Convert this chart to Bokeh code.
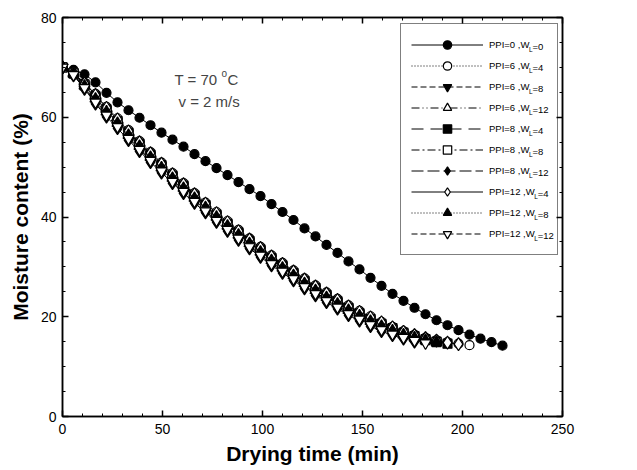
from bokeh.plotting import figure
from bokeh.models import (Range1d, LinearAxis, SingleIntervalTicker, Legend, LegendItem, Label,
                          CustomJSTickFormatter)
from bokeh.embed import file_html
from bokeh.resources import INLINE

# ---------------- data ----------------
TIME = [0, 5.5, 11, 16.5, 22, 27.5, 33, 38.5, 44, 49.5, 55, 60.5, 66, 71.5, 77, 82.5, 88, 93.5,
        99, 104.5, 110, 115.5, 121, 126.5, 132, 137.5, 143, 148.5, 154, 159.5, 165, 170.5, 176,
        181.5, 187, 192.5, 198, 203.5, 209, 214.5, 220]

PPI0_WL0 = [70.0, 69.5, 68.6, 67.0, 64.9, 63.0, 61.4, 59.9, 58.4, 56.9, 55.5, 54.1, 52.6, 51.2,
            49.8, 48.4, 47.0, 45.6, 44.2, 42.6, 41.0, 39.4, 37.7, 36.1, 34.4, 32.8, 31.1, 29.5,
            27.8, 26.2, 24.6, 23.2, 21.8, 20.5, 19.3, 18.3, 17.3, 16.4, 15.6, 14.9, 14.2]
PPI6_WL4 = [70.0, 69.0, 66.9, 64.7, 62.1, 59.8, 57.4, 55.2, 53.0, 50.9, 48.8, 46.8, 44.8, 42.9,
            41.0, 39.2, 37.4, 35.7, 34.0, 32.3, 30.8, 29.3, 27.7, 26.3, 24.9, 23.6, 22.3, 21.2,
            20.1, 19.0, 18.0, 17.1, 16.4, 15.8, 15.3, 14.9, 14.6, 14.3]
PPI6_WL8 = [70.0, 68.6, 66.1, 63.3, 60.7, 58.4, 56.0, 53.8, 51.6, 49.5, 47.4, 45.4, 43.4, 41.5,
            39.6, 37.8, 36.0, 34.3, 32.6, 30.9, 29.4, 27.9, 26.3, 24.9, 23.5, 22.2, 20.9, 19.8,
            18.7, 17.7, 16.8, 16.0, 15.4, 14.9]
PPI6_WL12 = [70.0, 68.9, 66.7, 64.3, 61.7, 59.4, 57.0, 54.8, 52.6, 50.5, 48.4, 46.4, 44.4, 42.5,
             40.6, 38.8, 37.0, 35.3, 33.6, 31.9, 30.4, 28.9, 27.3, 25.9, 24.5, 23.2, 21.9, 20.8,
             19.7, 18.7, 17.8, 17.0, 16.3, 15.7, 15.2]
PPI8_WL4 = [70.0, 68.8, 66.6, 64.2, 61.6, 59.3, 56.9, 54.7, 52.5, 50.4, 48.3, 46.3, 44.3, 42.4,
            40.5, 38.7, 36.9, 35.2, 33.5, 31.8, 30.3, 28.8, 27.2, 25.8, 24.4, 23.1, 21.8, 20.7,
            19.6, 18.6, 17.7, 16.8, 16.1, 15.5, 15.0, 14.6]
PPI8_WL8 = [70.0, 68.8, 66.4, 63.9, 61.3, 59.0, 56.6, 54.4, 52.2, 50.1, 48.0, 46.0, 44.0, 42.1,
            40.2, 38.4, 36.6, 34.9, 33.2, 31.5, 30.0, 28.5, 26.9, 25.5, 24.1, 22.8, 21.5, 20.4,
            19.3, 18.3, 17.4, 16.6, 15.9, 15.3, 14.9]
PPI8_WL12 = [70.0, 68.4, 65.7, 62.7, 60.1, 57.8, 55.4, 53.2, 51.0, 48.9, 46.8, 44.8, 42.8, 40.9,
             39.0, 37.2, 35.4, 33.7, 32.0, 30.3, 28.8, 27.3, 25.7, 24.3, 22.9, 21.6, 20.3, 19.2,
             18.1, 17.1, 16.3, 15.6, 15.0]
PPI12_WL4 = [70.0, 68.9, 66.8, 64.5, 61.9, 59.6, 57.2, 55.0, 52.8, 50.7, 48.6, 46.6, 44.6, 42.7,
             40.8, 39.0, 37.2, 35.5, 33.8, 32.1, 30.6, 29.1, 27.5, 26.1, 24.7, 23.4, 22.1, 21.0,
             19.9, 18.9, 17.9, 17.0, 16.3, 15.7, 15.2, 14.8, 14.5]
PPI12_WL8 = [70.0, 68.7, 66.3, 63.7, 61.1, 58.8, 56.4, 54.2, 52.0, 49.9, 47.8, 45.8, 43.8, 41.9,
             40.0, 38.2, 36.4, 34.7, 33.0, 31.3, 29.8, 28.3, 26.7, 25.3, 23.9, 22.6, 21.3, 20.2,
             19.1, 18.1, 17.2, 16.4, 15.8, 15.3, 14.9]
PPI12_WL12 = [70.0, 68.5, 65.9, 63.0, 60.4, 58.1, 55.7, 53.5, 51.3, 49.2, 47.1, 45.1, 43.1, 41.2,
              39.3, 37.5, 35.7, 34.0, 32.3, 30.6, 29.1, 27.6, 26.0, 24.6, 23.2, 21.9, 20.6, 19.5,
              18.4, 17.4, 16.5, 15.8, 15.2, 14.7]

PPI_LABELS = ["0", "6", "6", "6", "8", "8", "8", "12", "12", "12"]
WL_LABELS = ["0", "4", "8", "12", "4", "8", "12", "4", "8", "12"]
SERIES_VALUES = [PPI0_WL0, PPI6_WL4, PPI6_WL8, PPI6_WL12, PPI8_WL4, PPI8_WL8, PPI8_WL12,
                 PPI12_WL4, PPI12_WL8, PPI12_WL12]

X_TICKS_MAJOR = 50
Y_TICKS_MAJOR = 20

# ---------------- styles ----------------
MARKERS = ["circle", "circle", "inverted_triangle", "triangle", "square", "square",
           "diamond", "diamond", "triangle", "inverted_triangle"]
FILLED = [True, False, True, False, True, False, True, False, True, False]
DASHES = ["solid", "1 2", "6 3", "8 3 1 3 1 3", "12 7", "8 3 2 3", "12 4", "solid", "1 2", "6 3"]
SIZES = {"circle": 9, "triangle": 11, "inverted_triangle": 11, "square": 9, "diamond": 13}

FONT = "Liberation Sans"

FRAME_W, FRAME_H = 500, 399
p = figure(frame_width=FRAME_W, frame_height=FRAME_H, output_backend="svg", toolbar_location=None,
           x_range=Range1d(0, 250), y_range=Range1d(0, 80),
           min_border_left=62, min_border_right=59, min_border_top=17, min_border_bottom=54)
p.grid.visible = False
p.outline_line_color = "black"
p.outline_line_width = 1.5
p.background_fill_color = "white"
p.border_fill_color = "white"


def style_axis(ax, show_labels=True):
    ax.axis_line_color = "black"
    ax.axis_line_width = 1.5
    ax.major_tick_in = 6
    ax.major_tick_out = 0
    ax.minor_tick_in = 3
    ax.minor_tick_out = 0
    ax.major_tick_line_color = "black"
    ax.minor_tick_line_color = "black"
    ax.major_tick_line_width = 1.5
    ax.minor_tick_line_width = 1
    ax.major_label_text_font = FONT
    ax.major_label_text_color = "black"
    ax.major_label_text_font_size = "14px"
    if not show_labels:
        ax.formatter = CustomJSTickFormatter(code="return ''")
        ax.major_label_standoff = 0


xaxis = p.xaxis[0]
yaxis = p.yaxis[0]
xaxis.ticker = SingleIntervalTicker(interval=X_TICKS_MAJOR, num_minor_ticks=5)
yaxis.ticker = SingleIntervalTicker(interval=Y_TICKS_MAJOR, num_minor_ticks=4)
style_axis(xaxis)
style_axis(yaxis)
xaxis.major_label_standoff = 7
yaxis.major_label_standoff = 6
xaxis.axis_label = "Drying time (min)"
yaxis.axis_label = "Moisture content (%)"
for ax in (xaxis, yaxis):
    ax.axis_label_text_font = FONT
    ax.axis_label_text_font_style = "bold"
    ax.axis_label_text_font_size = "21px"
    ax.axis_label_text_color = "black"
xaxis.axis_label_standoff = 5
yaxis.axis_label_standoff = 6

top = LinearAxis(ticker=SingleIntervalTicker(interval=X_TICKS_MAJOR, num_minor_ticks=5))
style_axis(top, show_labels=False)
p.add_layout(top, "above")
right = LinearAxis(ticker=SingleIntervalTicker(interval=Y_TICKS_MAJOR, num_minor_ticks=4))
style_axis(right, show_labels=False)
p.add_layout(right, "right")

# ---------------- series ----------------
items = []
for i, vals in enumerate(SERIES_VALUES):
    xs = TIME[:len(vals)]
    ln = p.line(xs, vals, line_color="black", line_width=1, line_dash=DASHES[i])
    mk = MARKERS[i]
    sc = p.scatter(xs, vals, marker=mk, size=SIZES[mk], line_color="black", line_width=1.2,
                   fill_color="black" if FILLED[i] else "white")
    items.append(LegendItem(label="PPI=%s ,W" % PPI_LABELS[i], renderers=[ln, sc]))

# ---------------- legend ----------------
ARIAL = {"P": 667, "I": 278, "=": 584, " ": 278, ",": 278, "W": 944, "L": 556}
for d in "0123456789":
    ARIAL[d] = 556


def tw(s, size):
    return sum(ARIAL[c] for c in s) * size / 1000.0


LEG_FS = 9.5
SUB_FS = 6.5
PAD = 10
GLYPH_W = 72
STANDOFF = 6
ROW_H = 21
LABEL_W = 58
box_w = 2 * PAD + GLYPH_W + STANDOFF + LABEL_W
box_h = 2 * PAD + ROW_H * len(items)
box_left = 338
box_top_gap = 8
lx = box_left
ly = FRAME_H - box_top_gap - box_h

legend = Legend(items=items, location=(lx, ly), orientation="vertical",
                glyph_width=GLYPH_W, glyph_height=ROW_H, label_height=ROW_H, label_width=LABEL_W,
                label_standoff=STANDOFF, spacing=0, padding=PAD, margin=0,
                border_line_color="black", border_line_width=1,
                background_fill_color="white", background_fill_alpha=0,
                label_text_font=FONT, label_text_font_size="%spx" % LEG_FS, label_text_color="black")
p.add_layout(legend)

text_x = lx + PAD + GLYPH_W + STANDOFF
for i in range(len(items)):
    cy = ly + box_h - PAD - ROW_H / 2.0 - ROW_H * i
    base = text_x + tw("PPI=%s ,W" % PPI_LABELS[i], LEG_FS)
    p.add_layout(Label(x=base, y=cy - 3, x_units="screen", y_units="screen", text="L",
                       text_font=FONT, text_font_size="%spx" % SUB_FS, text_baseline="middle",
                       text_color="black"))
    p.add_layout(Label(x=base + tw("L", SUB_FS), y=cy, x_units="screen", y_units="screen",
                       text="=" + WL_LABELS[i], text_font=FONT, text_font_size="%spx" % LEG_FS,
                       text_baseline="middle", text_color="black"))

# ---------------- annotation ----------------
ANN_FS = 15
t_x, t_y = 112, 337
p.add_layout(Label(x=t_x, y=t_y, x_units="screen", y_units="screen", text="T = 70 ",
                   text_font=FONT, text_font_size="%dpx" % ANN_FS, text_baseline="middle"))
o_x = t_x + 47
p.add_layout(Label(x=o_x, y=t_y + 6, x_units="screen", y_units="screen", text="o",
                   text_font=FONT, text_font_size="10px", text_baseline="middle"))
p.add_layout(Label(x=o_x + 6, y=t_y, x_units="screen", y_units="screen", text="C",
                   text_font=FONT, text_font_size="%dpx" % ANN_FS, text_baseline="middle"))
p.add_layout(Label(x=116, y=315, x_units="screen", y_units="screen", text="v = 2 m/s",
                   text_font=FONT, text_font_size="%dpx" % ANN_FS, text_baseline="middle"))

open("out.html", "w").write(file_html(p, INLINE))
